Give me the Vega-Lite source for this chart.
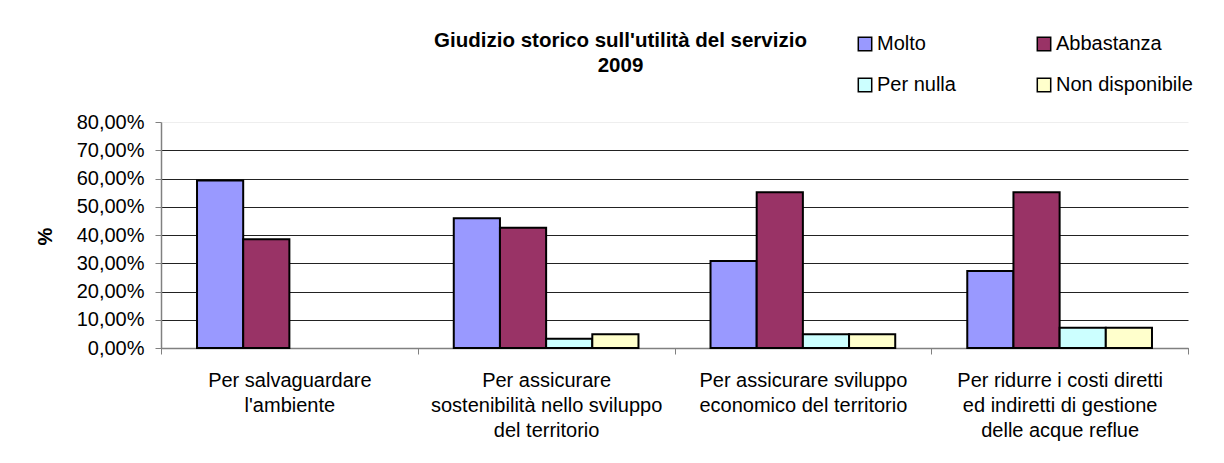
{
  "$schema": "https://vega.github.io/schema/vega-lite/v6.json",
  "autosize": "none",
  "width": 1027,
  "height": 226,
  "padding": {"left": 161, "top": 122, "right": 36, "bottom": 115},
  "background": "white",
  "title": {
    "text": ["Giudizio storico sull'utilità del servizio", "2009"],
    "font": "Liberation Sans",
    "fontSize": 20.5,
    "fontWeight": "bold",
    "color": "black",
    "anchor": "middle",
    "frame": "group",
    "dx": -54,
    "offset": 0,
    "dy": 42,
    "lineHeight": 25
  },
  "data": {
    "values": [
      {"categoria": "Per salvaguardare|l'ambiente", "giudizio": "Molto", "valore": 0.593},
      {"categoria": "Per salvaguardare|l'ambiente", "giudizio": "Abbastanza", "valore": 0.385},
      {"categoria": "Per assicurare|sostenibilità nello sviluppo|del territorio", "giudizio": "Molto", "valore": 0.459},
      {"categoria": "Per assicurare|sostenibilità nello sviluppo|del territorio", "giudizio": "Abbastanza", "valore": 0.426},
      {"categoria": "Per assicurare|sostenibilità nello sviluppo|del territorio", "giudizio": "Per nulla", "valore": 0.033},
      {"categoria": "Per assicurare|sostenibilità nello sviluppo|del territorio", "giudizio": "Non disponibile", "valore": 0.049},
      {"categoria": "Per assicurare sviluppo|economico del territorio", "giudizio": "Molto", "valore": 0.308},
      {"categoria": "Per assicurare sviluppo|economico del territorio", "giudizio": "Abbastanza", "valore": 0.551},
      {"categoria": "Per assicurare sviluppo|economico del territorio", "giudizio": "Per nulla", "valore": 0.049},
      {"categoria": "Per assicurare sviluppo|economico del territorio", "giudizio": "Non disponibile", "valore": 0.049},
      {"categoria": "Per ridurre i costi diretti|ed indiretti di gestione|delle acque reflue", "giudizio": "Molto", "valore": 0.273},
      {"categoria": "Per ridurre i costi diretti|ed indiretti di gestione|delle acque reflue", "giudizio": "Abbastanza", "valore": 0.551},
      {"categoria": "Per ridurre i costi diretti|ed indiretti di gestione|delle acque reflue", "giudizio": "Per nulla", "valore": 0.072},
      {"categoria": "Per ridurre i costi diretti|ed indiretti di gestione|delle acque reflue", "giudizio": "Non disponibile", "valore": 0.072}
    ]
  },
  "mark": {"type": "bar", "stroke": "black", "strokeWidth": 2},
  "encoding": {
    "x": {
      "field": "categoria",
      "type": "nominal",
      "sort": null,
      "scale": {"paddingInner": 0, "paddingOuter": 0},
      "axis": {
        "title": null,
        "labelAngle": 0,
        "labelExpr": "split(datum.label, '|')",
        "labelFont": "Liberation Sans",
        "labelFontSize": 20,
        "labelColor": "black",
        "labelLineHeight": 25,
        "labelPadding": 16,
        "labelLimit": 0,
        "tickBand": "extent",
        "tickColor": "#808080",
        "tickSize": 6,
        "domainColor": "#808080",
        "domainWidth": 1.5,
        "grid": false
      }
    },
    "xOffset": {
      "field": "giudizio",
      "type": "nominal",
      "scale": {"domain": ["Molto", "Abbastanza", "Per nulla", "Non disponibile"], "paddingInner": 0, "paddingOuter": 0.78}
    },
    "y": {
      "field": "valore",
      "type": "quantitative",
      "scale": {"domain": [0, 0.8], "nice": false},
      "axis": {
        "title": "%",
        "titleFont": "Liberation Sans",
        "titleFontSize": 20,
        "titleFontWeight": "bold",
        "titleColor": "black",
        "titleAngle": -90,
        "titleX": -116,
        "titleY": 114,
        "titleAlign": "center",
        "titleBaseline": "middle",
        "values": [0, 0.1, 0.2, 0.3, 0.4, 0.5, 0.6, 0.7, 0.8],
        "labelExpr": "replace(format(datum.value, '.2%'), '.', ',')",
        "labelFont": "Liberation Sans",
        "labelFontSize": 20,
        "labelColor": "black",
        "labelPadding": 11,
        "tickColor": "#808080",
        "tickSize": 6,
        "domainColor": "#808080",
        "domainWidth": 1.5,
        "grid": true,
        "gridColor": {"condition": {"test": "datum.value >= 0.8", "value": "#eeeeee"}, "value": "#222222"},
        "gridWidth": 1
      }
    },
    "color": {
      "field": "giudizio",
      "type": "nominal",
      "scale": {
        "domain": ["Molto", "Abbastanza", "Per nulla", "Non disponibile"],
        "range": ["#9999FF", "#993366", "#CCFFFF", "#FFFFCC"]
      },
      "legend": {
        "title": null,
        "orient": "none",
        "direction": "horizontal",
        "legendX": 694,
        "legendY": -88,
        "columns": 2,
        "columnPadding": 78,
        "rowPadding": 21,
        "symbolType": "square",
        "symbolSize": 180,
        "symbolStrokeColor": "black",
        "symbolStrokeWidth": 1.5,
        "symbolOpacity": 1,
        "labelFont": "Liberation Sans",
        "labelFontSize": 20,
        "labelColor": "black",
        "labelOffset": 2,
        "labelLimit": 0
      }
    }
  },
  "config": {
    "view": {"stroke": null}
  }
}
